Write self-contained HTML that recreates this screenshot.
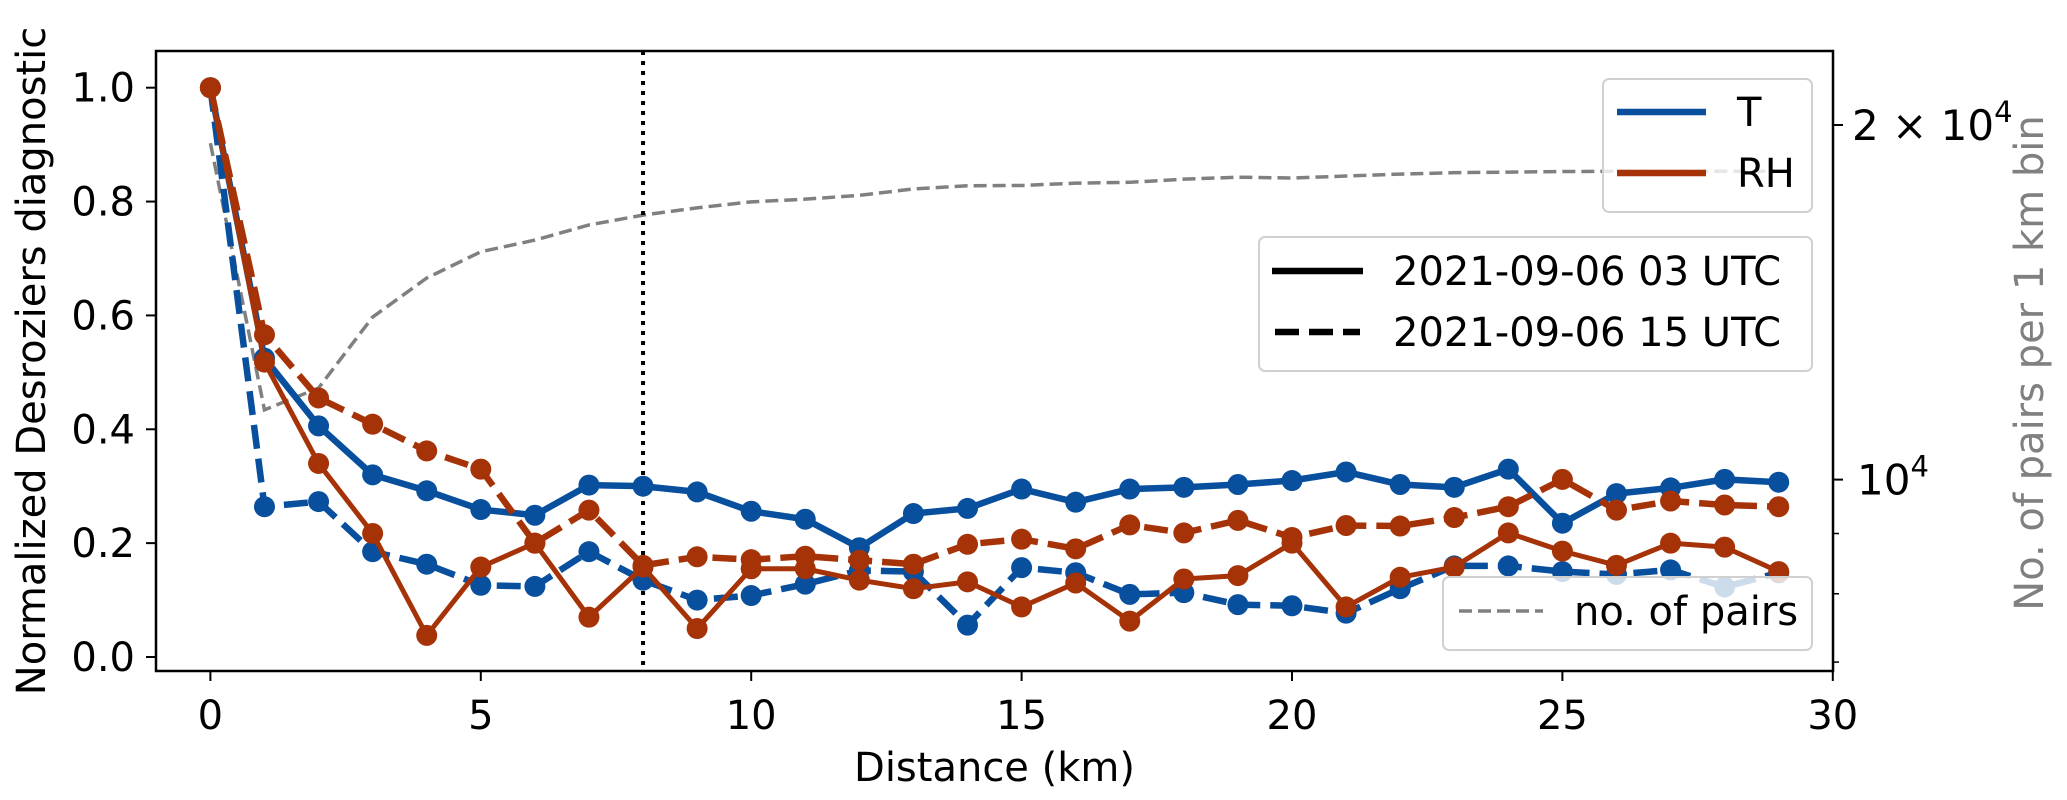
<!DOCTYPE html>
<html><head><meta charset="utf-8"><style>
html,body{margin:0;padding:0;background:#fff;}
svg{display:block;font-family:"DejaVu Sans","Liberation Sans",sans-serif;}
</style></head><body>
<svg id="chart" width="2067" height="800" viewBox="0 0 2067 800">
<g id="plot"></g>
</svg>
<script>
const distances=[0,1,2,3,4,5,6,7,8,9,10,11,12,13,14,15,16,17,18,19,20,21,22,23,24,25,26,27,28,29];
const tSolid=[1.0,0.525,0.406,0.32,0.292,0.259,0.249,0.302,0.300,0.290,0.256,0.242,0.192,0.252,0.261,0.295,0.272,0.295,0.298,0.303,0.31,0.325,0.303,0.298,0.33,0.235,0.287,0.297,0.312,0.307];
const tDashed=[1.0,0.264,0.273,0.185,0.163,0.126,0.124,0.185,0.135,0.10,0.108,0.128,0.152,0.15,0.056,0.157,0.148,0.11,0.113,0.092,0.09,0.077,0.12,0.16,0.16,0.15,0.145,0.153,0.123,0.148];
const rhSolid=[1.0,0.518,0.34,0.217,0.038,0.158,0.2,0.07,0.158,0.05,0.155,0.155,0.135,0.12,0.132,0.088,0.13,0.063,0.137,0.143,0.2,0.088,0.14,0.158,0.218,0.186,0.161,0.2,0.193,0.15];
const rhDashed=[1.0,0.566,0.455,0.409,0.362,0.33,0.2,0.258,0.161,0.176,0.171,0.177,0.17,0.163,0.198,0.207,0.19,0.232,0.218,0.24,0.21,0.231,0.23,0.245,0.264,0.312,0.258,0.274,0.267,0.264];
const pairs=[19300,11460,11960,13740,14830,15610,15970,16450,16770,17010,17210,17300,17430,17650,17760,17770,17850,17880,17990,18060,18030,18100,18170,18220,18240,18260,18270,18270,18270,18270];
const xTicks=[0,5,10,15,20,25,30];
const yTicks=[0.0,0.2,0.4,0.6,0.8,1.0];
const yTickLabels=["0.0","0.2","0.4","0.6","0.8","1.0"];
const rMinor=[7000,8000,9000];

const L=156,R=1833,T=51,B=671;
const X=v=>210.4+54.08*v;
const Y=v=>657-569.3*v;
const YR=v=>479.6-1178*Math.log10(v/10000);
const NS='http://www.w3.org/2000/svg';
const g=document.getElementById('plot');
function mk(tag,attrs,parent){const e=document.createElementNS(NS,tag);for(const k in attrs)e.setAttribute(k,attrs[k]);(parent||g).appendChild(e);return e;}
const BLUE='#084f9d',RED='#a63308';

const defs=mk('defs',{});const cp=mk('clipPath',{id:'clip'},defs);mk('rect',{x:L,y:T,width:R-L,height:B-T},cp);
const data=mk('g',{'clip-path':'url(#clip)'});



const gp=mk('polyline',{points:distances.map((d,i)=>X(d)+','+YR(pairs[i])).join(' '),fill:'none',stroke:'#808080','stroke-width':3.5,'stroke-dasharray':'13,6'},data);



const vl=mk('line',{x1:X(8),x2:X(8),y1:T,y2:B,stroke:'#000','stroke-width':4,'stroke-dasharray':'4,6'},data);



function series(vals,color,w,dash,name){
  const grp=mk('g',{},data);
  
  
  const pl=mk('polyline',{points:distances.map((d,i)=>X(d)+','+Y(vals[i])).join(' '),fill:'none',stroke:color,'stroke-width':w,'stroke-linejoin':'round'},grp);
  if(dash)pl.setAttribute('stroke-dasharray',dash);
  distances.forEach((d,i)=>{const c=mk('circle',{cx:X(d),cy:Y(vals[i]),r:10.5,fill:color},grp);
    
    });
}
series(tSolid,BLUE,6.5,null,'t-0306-series');
series(tDashed,BLUE,6.5,'24,10','t-0615-series');
series(rhSolid,RED,5,null,'rh-0306-series');
series(rhDashed,RED,6.5,'24,10','rh-0615-series');

const sp=mk('rect',{x:L,y:T,width:R-L,height:B-T,fill:'none',stroke:'#000','stroke-width':2.5});



xTicks.forEach(t=>{mk('line',{x1:X(t),x2:X(t),y1:B,y2:B+10,stroke:'#000','stroke-width':2});
  const tx=mk('text',{x:X(t),y:729,'font-size':40,'text-anchor':'middle',fill:'#000'});tx.textContent=t;
  
  });
yTicks.forEach((t,i)=>{mk('line',{x1:L-10,x2:L,y1:Y(t),y2:Y(t),stroke:'#000','stroke-width':2});
  const tx=mk('text',{x:135,y:Y(t)+14,'font-size':40,'text-anchor':'end',fill:'#000'});tx.textContent=yTickLabels[i];
  
  });
[10000,20000].forEach(v=>mk('line',{x1:R,x2:R+10,y1:YR(v),y2:YR(v),stroke:'#000','stroke-width':2}));
rMinor.forEach(v=>mk('line',{x1:R,x2:R+6,y1:YR(v),y2:YR(v),stroke:'#000','stroke-width':1.5}));
let rt=mk('text',{x:1852,y:YR(20000)+15,'font-size':42,fill:'#000'});rt.innerHTML='2 × 10<tspan dy="-18" font-size="29">4</tspan>';


rt=mk('text',{x:1857,y:YR(10000)+15,'font-size':42,fill:'#000'});rt.innerHTML='10<tspan dy="-18" font-size="29">4</tspan>';



let at=mk('text',{x:(L+R)/2,y:781,'font-size':40,'text-anchor':'middle',fill:'#000'});at.textContent='Distance (km)';


at=mk('text',{x:0,y:0,'font-size':40,'text-anchor':'middle',fill:'#000',transform:'translate(45,361) rotate(-90)'});at.textContent='Normalized Desroziers diagnostic';


at=mk('text',{x:0,y:0,'font-size':40,'text-anchor':'middle',fill:'#808080',transform:'translate(2043,363) rotate(-90)'});at.textContent='No. of pairs per 1 km bin';



function box(x,y,w,h,name){const r=mk('rect',{x:x,y:y,width:w,height:h,rx:6,fill:'rgba(255,255,255,0.8)',stroke:'#d0d0d0','stroke-width':2});
  
  }
function txt(x,y,s,name){const t=mk('text',{x:x,y:y,'font-size':40,fill:'#000'});t.textContent=s;
  
  }
box(1603,79,209,133,'variable-legend');
mk('line',{x1:1617,x2:1706,y1:112,y2:112,stroke:BLUE,'stroke-width':6.5});
txt(1737,126,'T','legend-entry-t');
mk('line',{x1:1617,x2:1706,y1:173,y2:173,stroke:RED,'stroke-width':6.5});
txt(1737,187,'RH','legend-entry-rh');
box(1259,237,553,134,'time-legend');
mk('line',{x1:1272,x2:1363,y1:271,y2:271,stroke:'#000','stroke-width':6.5});
txt(1393,285,'2021-09-06 03 UTC','legend-entry-03utc');
mk('line',{x1:1275,x2:1360,y1:332,y2:332,stroke:'#000','stroke-width':6.5,'stroke-dasharray':'24,10'});
txt(1393,346,'2021-09-06 15 UTC','legend-entry-15utc');
box(1443,577,369,73,'pairs-legend');
mk('line',{x1:1459,x2:1543,y1:611,y2:611,stroke:'#808080','stroke-width':3.5,'stroke-dasharray':'13,6'});
txt(1574,625,'no. of pairs','legend-entry-pairs');
</script>
</body></html>
